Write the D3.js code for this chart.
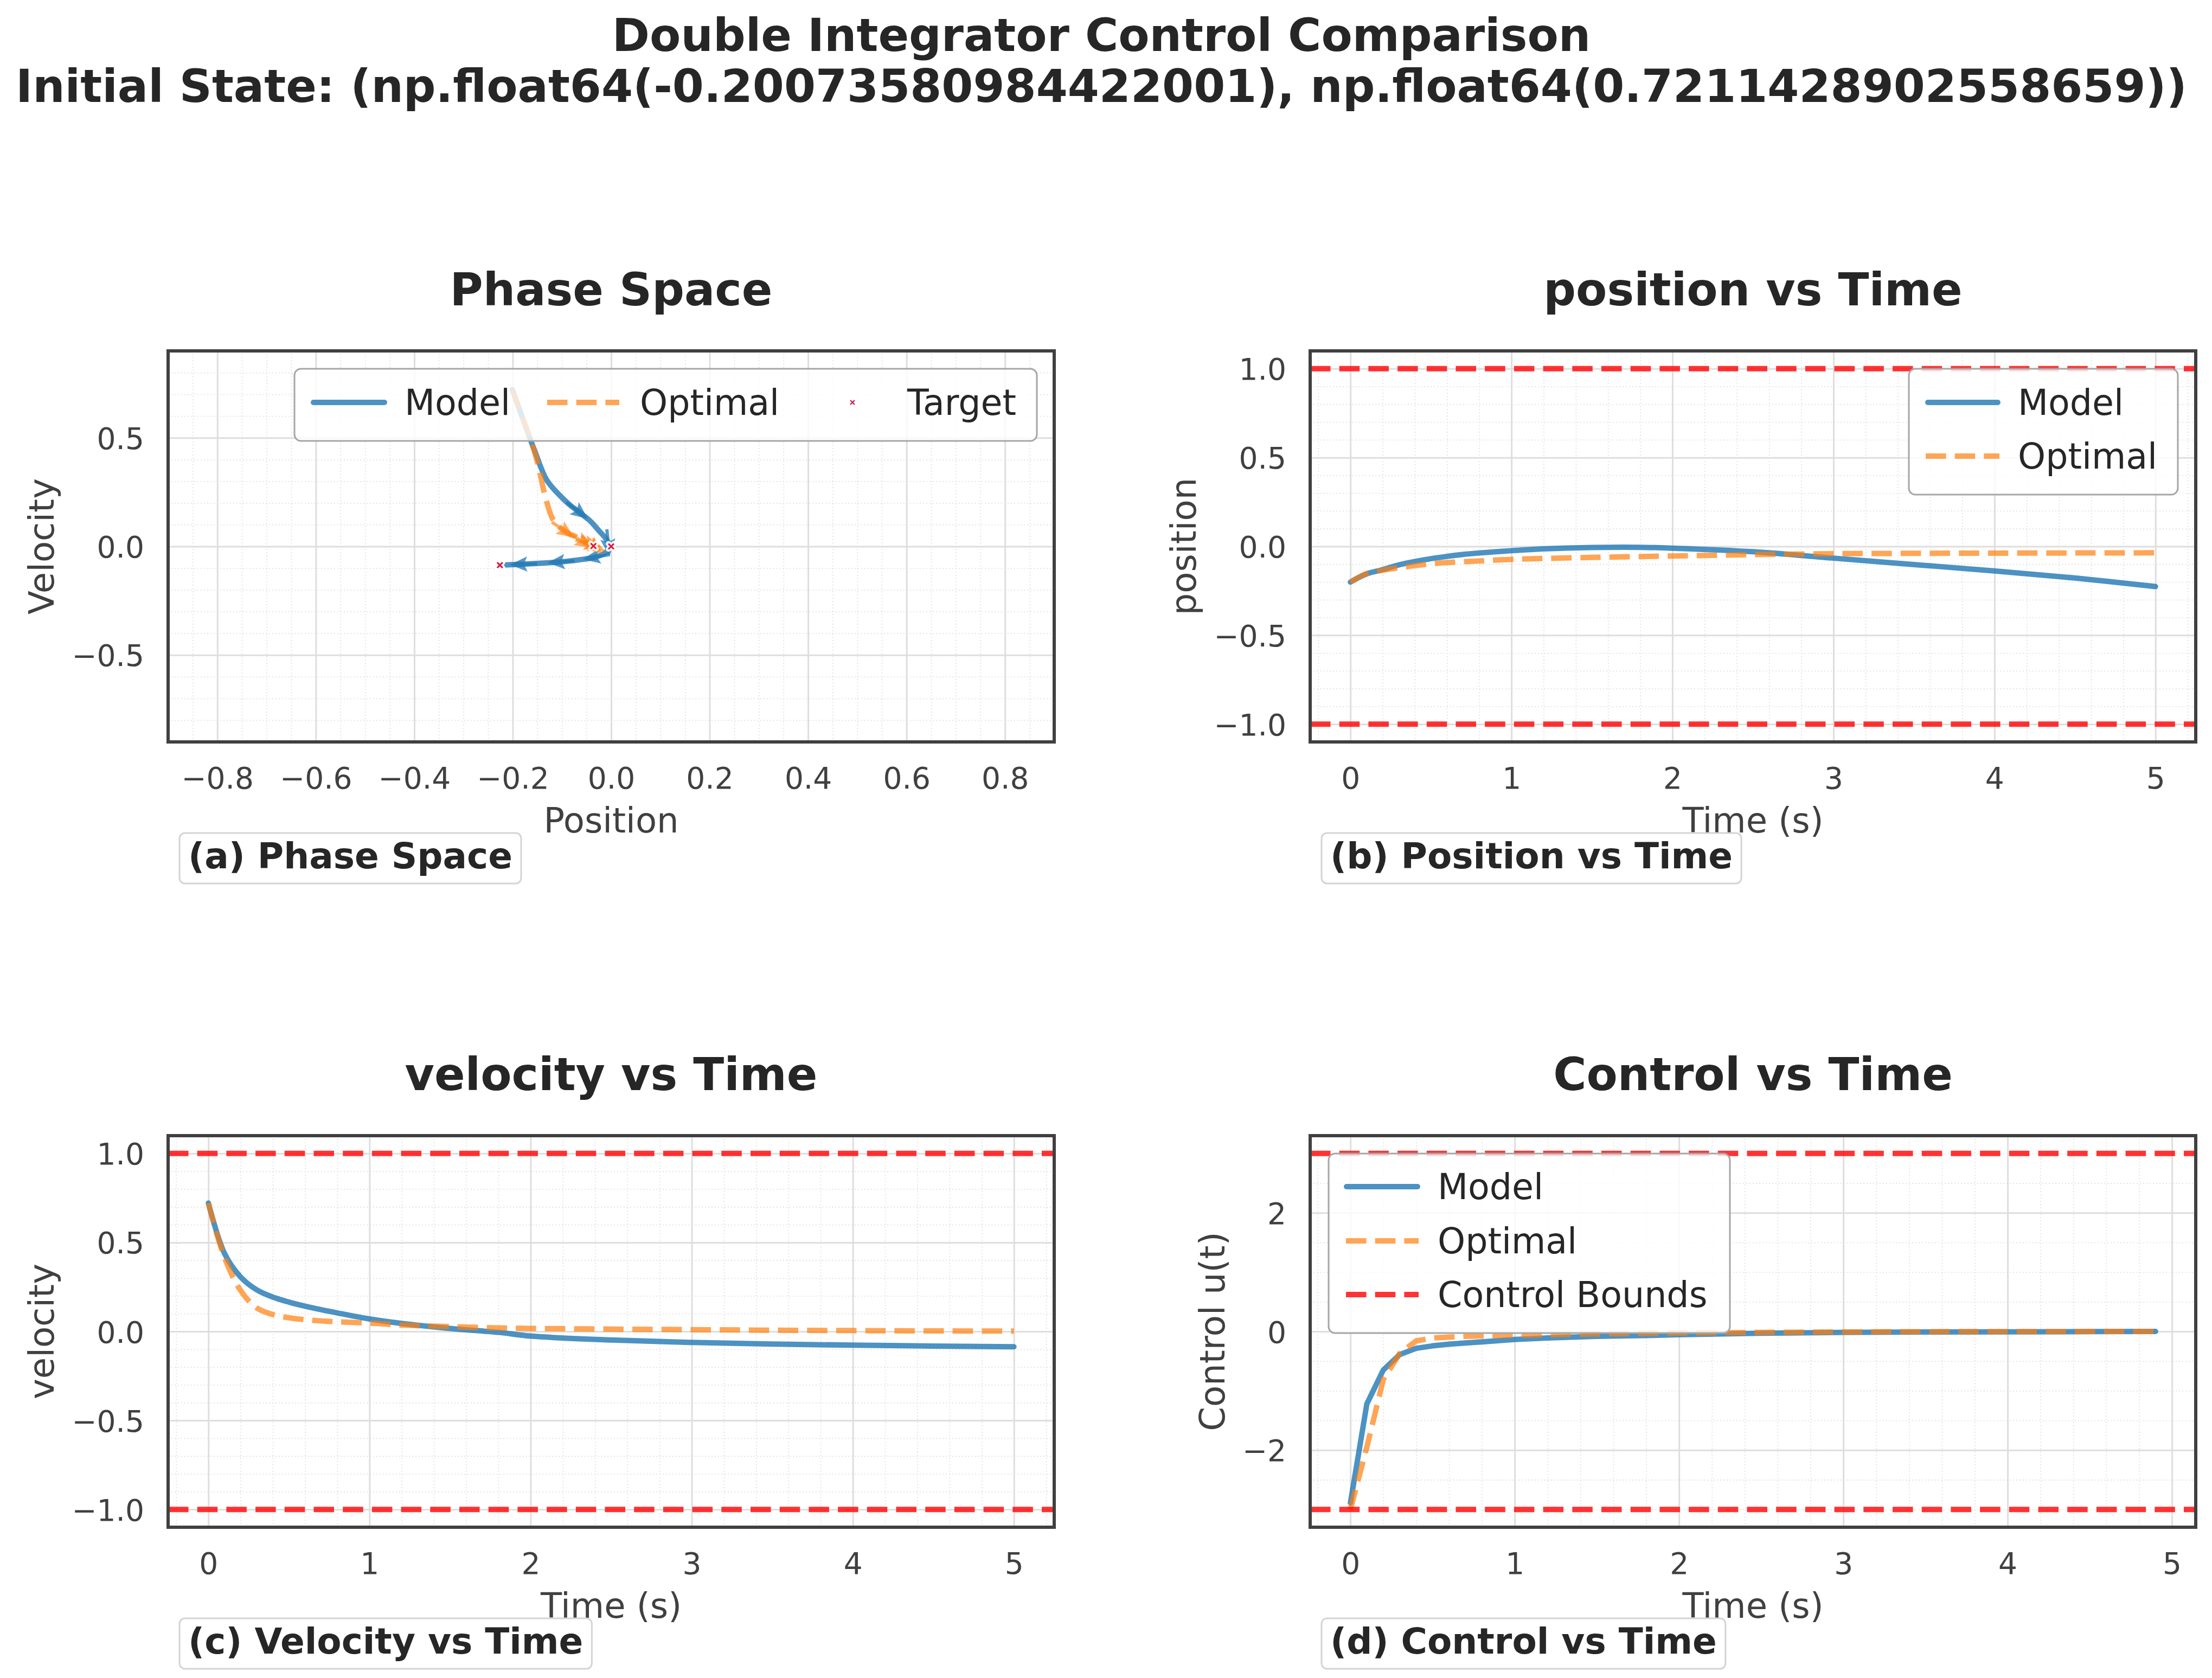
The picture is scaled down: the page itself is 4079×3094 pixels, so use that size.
<!DOCTYPE html>
<html><head><meta charset="utf-8">
<script src="https://cdn.jsdelivr.net/npm/d3@7"></script>
<style>body{margin:0;background:#fff} svg{display:block} text{font-family:"DejaVu Sans",sans-serif}</style>
</head><body>
<svg id="chart" width="4079" height="3094"></svg>
<script>
// ---------------- data ----------------
const suptitle = ["Double Integrator Control Comparison",
  "Initial State: (np.float64(-0.20073580984422001), np.float64(0.7211428902558659))"];
const time = [0,0.1,0.2,0.3,0.4,0.5,0.6,0.7,0.8,1.0,1.2,1.5,1.8,2.0,2.5,3.0,3.5,4.0,4.5,5.0];
const modelPosition   = [-0.2007,-0.155,-0.131,-0.104,-0.085,-0.069,-0.056,-0.045,-0.037,-0.024,-0.014,-0.006,-0.005,-0.010,-0.030,-0.066,-0.102,-0.138,-0.178,-0.226];
const optimalPosition = [-0.2007,-0.153,-0.134,-0.120,-0.108,-0.098,-0.091,-0.086,-0.082,-0.073,-0.068,-0.062,-0.057,-0.054,-0.046,-0.041,-0.039,-0.038,-0.037,-0.036];
const modelVelocity   = [0.7211,0.438,0.306,0.234,0.193,0.165,0.142,0.122,0.104,0.070,0.045,0.017,-0.005,-0.026,-0.048,-0.062,-0.071,-0.077,-0.082,-0.086];
const optimalVelocity = [0.7211,0.415,0.230,0.132,0.095,0.077,0.066,0.059,0.054,0.047,0.036,0.027,0.020,0.017,0.013,0.010,0.007,0.005,0.003,0.002];
const controlTime    = [0,0.1,0.2,0.3,0.4,0.5,0.6,0.7,0.8,1.0,1.2,1.5,1.8,2.0,2.5,3.0,3.5,4.0,4.5,4.9];
const modelControl   = [-2.89,-1.22,-0.65,-0.39,-0.285,-0.243,-0.215,-0.195,-0.175,-0.135,-0.110,-0.083,-0.068,-0.056,-0.030,-0.016,-0.010,-0.006,-0.003,0.0];
const optimalControl = [-3.00,-1.95,-0.81,-0.37,-0.160,-0.110,-0.095,-0.083,-0.075,-0.063,-0.055,-0.042,-0.033,-0.028,-0.016,-0.008,-0.004,-0.002,-0.001,0.0];
const target = [0, 0];
const arrowTimes = [0.5, 1.5, 2.5, 3.5, 4.5];
const stateBounds = [-1, 1];
const controlBounds = [-3, 3];
const phaseXTicks = [-0.8,-0.6,-0.4,-0.2,0.0,0.2,0.4,0.6,0.8];
const phaseYTicks = [-0.5,0.0,0.5];
const timeTicks = [0,1,2,3,4,5];
const stateYTicks = [-1.0,-0.5,0.0,0.5,1.0];
const controlYTicks = [-2,0,2];

// ---------------- style ----------------
const W = 4079, H = 3094;
const BLUE = '#1f77b4', ORANGE = '#ff7f0e', RED = '#ff0000', CRIMSON = '#dc143c';
const TXT = '#262626', TICK = '#404040';
const LW = 10, DASH = '37.5,16.2';
const FONT = '"DejaVu Sans", sans-serif';
const TITLE_FS = 83.5;

const svg = d3.select('#chart');
svg.append('rect').attr('width', W).attr('height', H).attr('fill', '#fff');

svg.append('text').attr('x', 2031).attr('y', 94).attr('text-anchor', 'middle')
  .attr('font-size', TITLE_FS).attr('font-weight', 'bold').attr('fill', TXT).text(suptitle[0]);
svg.append('text').attr('x', 2031).attr('y', 188).attr('text-anchor', 'middle')
  .attr('font-size', TITLE_FS).attr('font-weight', 'bold').attr('fill', TXT).text(suptitle[1]);

function minorValues(dom, step) {
  const out = [];
  for (let k = Math.ceil(dom[0] / step - 1e-9); k * step <= dom[1] + 1e-9; k++) out.push(+(k * step).toFixed(10));
  return out;
}

const zip = (a, b) => a.map((v, i) => [v, b[i]]);

const panels = [
  { key: 'a', box: [310, 647, 1944, 1368], xDomain: [-0.9, 0.9], yDomain: [-0.9, 0.9],
    xTicks: phaseXTicks, yTicks: phaseYTicks, xMinor: 0.05, yMinor: 0.1, xFmt: '.1f', yFmt: '.1f',
    title: 'Phase Space', xlabel: 'Position', ylabel: 'Velocity', tag: '(a) Phase Space',
    legend: { x: 543, y: 680, w: 1369, h: 133, items: [
      { kind: 'solid', color: BLUE, op: 0.8, x0: 35, x1: 166, cy: 62, tx: 203, label: 'Model' },
      { kind: 'dash', color: ORANGE, op: 0.7, x0: 466, x1: 599, cy: 62, tx: 637, label: 'Optimal' },
      { kind: 'marker', mx: 1029, cy: 62, tx: 1130, label: 'Target' } ] } },
  { key: 'b', box: [2416, 647, 4049, 1368], xDomain: [-0.25, 5.25], yDomain: [-1.1, 1.1],
    xTicks: timeTicks, yTicks: stateYTicks, xMinor: 0.2, yMinor: 0.1, xFmt: 'd', yFmt: '.1f',
    title: 'position vs Time', xlabel: 'Time (s)', ylabel: 'position', tag: '(b) Position vs Time',
    legend: { x: 3520, y: 680, w: 496, h: 232, items: [
      { kind: 'solid', color: BLUE, op: 0.8, x0: 35, x1: 164, cy: 62, tx: 201, label: 'Model' },
      { kind: 'dash', color: ORANGE, op: 0.7, x0: 31, x1: 167, cy: 161, tx: 201, label: 'Optimal' } ] } },
  { key: 'c', box: [310, 2094, 1944, 2816], xDomain: [-0.25, 5.25], yDomain: [-1.1, 1.1],
    xTicks: timeTicks, yTicks: stateYTicks, xMinor: 0.2, yMinor: 0.1, xFmt: 'd', yFmt: '.1f',
    title: 'velocity vs Time', xlabel: 'Time (s)', ylabel: 'velocity', tag: '(c) Velocity vs Time', legend: null },
  { key: 'd', box: [2416, 2094, 4049, 2816], xDomain: [-0.245, 5.145], yDomain: [-3.3, 3.3],
    xTicks: timeTicks, yTicks: controlYTicks, xMinor: 0.2, yMinor: 0.5, xFmt: 'd', yFmt: 'd',
    title: 'Control vs Time', xlabel: 'Time (s)', ylabel: 'Control u(t)', tag: '(d) Control vs Time',
    legend: { x: 2450, y: 2127, w: 740, h: 331, items: [
      { kind: 'solid', color: BLUE, op: 0.8, x0: 33, x1: 164, cy: 61, tx: 201, label: 'Model' },
      { kind: 'dash', color: ORANGE, op: 0.7, x0: 32, x1: 166, cy: 161, tx: 201, label: 'Optimal' },
      { kind: 'dash', color: RED, op: 0.8, x0: 32, x1: 166, cy: 260, tx: 201, label: 'Control Bounds' } ] } }
];

function xMarker(g, cx, cy, r, halo) {
  const d = `M${cx - r},${cy - r}L${cx + r},${cy + r}M${cx - r},${cy + r}L${cx + r},${cy - r}`;
  if (halo) g.append('path').attr('d', d).attr('stroke', '#fff').attr('stroke-width', 10)
    .attr('stroke-linecap', 'round').attr('fill', 'none').attr('opacity', 0.9);
  g.append('path').attr('d', d).attr('stroke', CRIMSON).attr('stroke-width', halo ? 3 : 2.2).attr('fill', 'none');
}

function drawLine(g, pts, x, y, color, op, dashed, curve) {
  const line = d3.line().x(d => x(d[0])).y(d => y(d[1])).curve(curve || d3.curveLinear);
  const p = g.append('path').datum(pts).attr('d', line).attr('fill', 'none')
    .attr('stroke', color).attr('stroke-opacity', op).attr('stroke-width', LW)
    .attr('stroke-linejoin', 'round');
  if (dashed) p.attr('stroke-dasharray', DASH).attr('stroke-linecap', 'butt');
  else p.attr('stroke-linecap', 'round');
}

function hLine(g, x, y, val, color, op) {
  g.append('line').attr('x1', x.range()[0]).attr('x2', x.range()[1]).attr('y1', y(val)).attr('y2', y(val))
    .attr('stroke', color).attr('stroke-opacity', op).attr('stroke-width', LW).attr('stroke-dasharray', DASH);
}

function arrow(g, p, q, color, op) {
  const ang = Math.atan2(q[1] - p[1], q[0] - p[0]) * 180 / Math.PI;
  const L = 50, w = 3, hl = 32, hal = 27, hw = 14;
  const pts = [[0, -w], [L - hal, -w], [L - hl, -hw], [L, 0], [L - hl, hw], [L - hal, w], [0, w]]
    .map(d => [d[0] - L / 2, d[1]]);
  g.append('path').attr('d', 'M' + pts.map(d => d.join(',')).join('L') + 'Z')
    .attr('transform', `translate(${p[0]},${p[1]}) rotate(${ang})`)
    .attr('fill', color).attr('fill-opacity', op);
}

const smooth = d3.curveCatmullRom.alpha(0.5);

panels.forEach(p => {
  const [L, T, R, B] = p.box;
  const x = d3.scaleLinear().domain(p.xDomain).range([L, R]);
  const y = d3.scaleLinear().domain(p.yDomain).range([B, T]);
  const g = svg.append('g');
  const clipId = 'clip-' + p.key;
  svg.append('clipPath').attr('id', clipId).append('rect')
    .attr('x', L).attr('y', T).attr('width', R - L).attr('height', B - T);

  // minor grid
  const mg = g.append('g');
  mg.append('g').attr('transform', `translate(0,${B})`)
    .call(d3.axisBottom(x).tickValues(minorValues(p.xDomain, p.xMinor)).tickSize(-(B - T)).tickFormat(''))
    .call(s => s.select('.domain').remove());
  mg.append('g').attr('transform', `translate(${L},0)`)
    .call(d3.axisLeft(y).tickValues(minorValues(p.yDomain, p.yMinor)).tickSize(-(R - L)).tickFormat(''))
    .call(s => s.select('.domain').remove());
  mg.selectAll('line').attr('stroke', '#e2e2e2').attr('stroke-width', 1.8).attr('stroke-dasharray', '2,4');

  // major grid
  const jg = g.append('g');
  jg.append('g').attr('transform', `translate(0,${B})`)
    .call(d3.axisBottom(x).tickValues(p.xTicks).tickSize(-(B - T)).tickFormat(''))
    .call(s => s.select('.domain').remove());
  jg.append('g').attr('transform', `translate(${L},0)`)
    .call(d3.axisLeft(y).tickValues(p.yTicks).tickSize(-(R - L)).tickFormat(''))
    .call(s => s.select('.domain').remove());
  jg.selectAll('line').attr('stroke', '#dedede').attr('stroke-width', 3);

  // tick labels
  const xa = g.append('g').attr('transform', `translate(0,${B})`)
    .call(d3.axisBottom(x).tickValues(p.xTicks).tickFormat(d3.format(p.xFmt)).tickSize(0))
    .call(s => s.select('.domain').remove());
  xa.attr('font-size', 55).attr('font-family', FONT);
  xa.selectAll('text').attr('y', 86).attr('dy', null).attr('fill', TICK);
  const ya = g.append('g').attr('transform', `translate(${L},0)`)
    .call(d3.axisLeft(y).tickValues(p.yTicks).tickFormat(d3.format(p.yFmt)).tickSize(0))
    .call(s => s.select('.domain').remove());
  ya.attr('font-size', 55).attr('font-family', FONT);
  ya.selectAll('text').attr('x', -44).attr('dy', '0.365em').attr('fill', TICK);
  let maxW = 0;
  ya.selectAll('text').each(function () { maxW = Math.max(maxW, this.getComputedTextLength()); });

  // data
  const dg = g.append('g').attr('clip-path', `url(#${clipId})`);
  if (p.key === 'a') {
    const mPts = zip(modelPosition, modelVelocity), oPts = zip(optimalPosition, optimalVelocity);
    drawLine(dg, mPts, x, y, BLUE, 0.8, false, smooth);
    drawLine(dg, oPts, x, y, ORANGE, 0.7, true, smooth);
    arrowTimes.forEach(t => {
      const i = time.indexOf(t);
      arrow(dg, [x(mPts[i][0]), y(mPts[i][1])], [x(mPts[i + 1][0]), y(mPts[i + 1][1])], BLUE, 0.75);
      arrow(dg, [x(oPts[i][0]), y(oPts[i][1])], [x(oPts[i + 1][0]), y(oPts[i + 1][1])], ORANGE, 0.65);
    });
    const last = time.length - 1;
    xMarker(dg, x(mPts[last][0]), y(mPts[last][1]), 5, true);
    xMarker(dg, x(oPts[last][0]), y(oPts[last][1]), 5, true);
    xMarker(dg, x(target[0]), y(target[1]), 5, true);
  } else if (p.key === 'b' || p.key === 'c') {
    stateBounds.forEach(v => hLine(dg, x, y, v, RED, 0.8));
    const m = p.key === 'b' ? modelPosition : modelVelocity;
    const o = p.key === 'b' ? optimalPosition : optimalVelocity;
    drawLine(dg, zip(time, m), x, y, BLUE, 0.8, false, smooth);
    drawLine(dg, zip(time, o), x, y, ORANGE, 0.7, true, smooth);
  } else {
    drawLine(dg, zip(controlTime, modelControl), x, y, BLUE, 0.8, false);
    drawLine(dg, zip(controlTime, optimalControl), x, y, ORANGE, 0.7, true);
    controlBounds.forEach(v => hLine(dg, x, y, v, RED, 0.8));
  }

  // frame
  g.append('rect').attr('x', L).attr('y', T).attr('width', R - L).attr('height', B - T)
    .attr('fill', 'none').attr('stroke', '#404040').attr('stroke-width', 6);

  // titles and labels
  g.append('text').attr('x', (L + R) / 2).attr('y', T - 84).attr('text-anchor', 'middle')
    .attr('font-size', TITLE_FS).attr('font-weight', 'bold').attr('fill', TXT).text(p.title);
  g.append('text').attr('x', (L + R) / 2).attr('y', B + 167).attr('text-anchor', 'middle')
    .attr('font-size', 64).attr('fill', TICK).text(p.xlabel);
  const yl = L - 44 - maxW - 33;
  g.append('text').attr('transform', `translate(${yl},${(T + B) / 2}) rotate(-90)`)
    .attr('text-anchor', 'middle').attr('font-size', 64).attr('fill', TICK).text(p.ylabel);

  // panel tag box
  const tg = g.append('g');
  const tx = L + 37, ty = B + 233;
  const tbox = tg.append('rect');
  const tt = tg.append('text').attr('x', tx).attr('y', ty).attr('font-size', 66)
    .attr('font-weight', 'bold').attr('fill', TXT).text(p.tag);
  const tw = tt.node().getComputedTextLength();
  tbox.attr('x', tx - 16).attr('y', ty - 65).attr('width', tw + 32).attr('height', 93)
    .attr('rx', 10).attr('fill', '#fff').attr('fill-opacity', 0.8)
    .attr('stroke', '#d4d4d4').attr('stroke-width', 3);

  // legend
  if (p.legend) {
    const lg = g.append('g').attr('transform', `translate(${p.legend.x},${p.legend.y})`);
    lg.append('rect').attr('width', p.legend.w).attr('height', p.legend.h).attr('rx', 12)
      .attr('fill', '#fff').attr('fill-opacity', 0.8).attr('stroke', '#a6a6a6').attr('stroke-width', 3);
    p.legend.items.forEach(it => {
      if (it.kind === 'marker') {
        xMarker(lg, it.mx, it.cy, 4, false);
      } else {
        const ln = lg.append('line').attr('x1', it.x0).attr('x2', it.x1).attr('y1', it.cy).attr('y2', it.cy)
          .attr('stroke', it.color).attr('stroke-opacity', it.op).attr('stroke-width', LW);
        if (it.kind === 'dash') ln.attr('stroke-dasharray', DASH);
        else ln.attr('stroke-linecap', 'round');
      }
      lg.append('text').attr('x', it.tx).attr('y', it.cy + 23).attr('font-size', 65)
        .attr('fill', TXT).text(it.label);
    });
  }
});
</script>
</body></html>
